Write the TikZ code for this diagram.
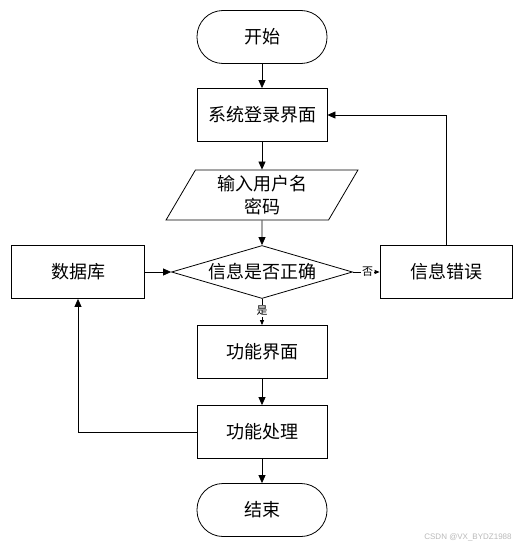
\documentclass[tikz,border=0pt]{standalone}
\usepackage{fontspec}
\newfontfamily\cjk{Noto Sans CJK SC}
\newfontfamily\wmfont{Liberation Sans}
\usetikzlibrary{shapes.geometric,arrows.meta}
\begin{document}
\begin{tikzpicture}[x=1pt,y=-1pt,
  every node/.style={font=\cjk\fontsize{18}{23}\selectfont},
  proc/.style={draw,line width=0.8pt,minimum width=130pt,minimum height=53pt,inner sep=2pt},
  term/.style={proc,rounded corners=26pt},
  flow/.style={line width=0.8pt,-{Triangle[length=8pt,width=7pt]}},
  smallflow/.style={line width=0.8pt,-{Triangle[length=5pt,width=4pt]}},
  lbl/.style={font=\cjk\fontsize{11}{11}\selectfont,fill=white,inner sep=1pt}]
\useasboundingbox (0,0) rectangle (523,551);
\node[term] (start) at (262,37) {开始};
\node[proc] (login) at (262,115) {系统登录界面};
\node[draw,line width=0.8pt,trapezium,trapezium left angle=64,trapezium right angle=116,
  trapezium stretches=true,minimum width=192pt,minimum height=50pt,inner sep=1pt,align=center] (input) at (262,195) {输入用户名\\密码};
\node[draw,diamond,line width=0.8pt,minimum width=181pt,minimum height=53pt,aspect=3.4,inner sep=0pt] (check) at (262,272) {信息是否正确};
\node[proc,minimum width=133pt] (db) at (78,272) {数据库};
\node[proc,minimum width=132pt] (err) at (446,272) {信息错误};
\node[proc] (func) at (262,352) {功能界面};
\node[proc] (work) at (262,432) {功能处理};
\node[term] (stop) at (262,510) {结束};
\node[font=\wmfont\fontsize{8}{8}\selectfont,text=gray!55] (wm) at (468,537) {CSDN @VX\_BYDZ1988};

\draw[flow] (start) -- (login);
\draw[flow] (login) -- (input);
\draw[flow] (input) -- (check);
\draw[flow] (db) -- (check);
\draw[smallflow] (check) -- node[lbl,pos=0.55]{否} (err);
\draw[smallflow] (check) -- node[lbl,pos=0.45]{是} (func);
\draw[flow] (func) -- (work);
\draw[flow] (work) -- (stop);
\draw[flow] (err.north) |- (login.east);
\draw[flow] (work.west) -| (db.south);
\end{tikzpicture}
\end{document}
